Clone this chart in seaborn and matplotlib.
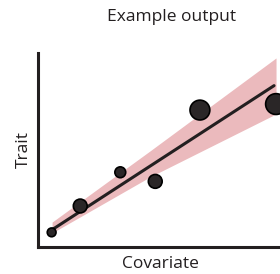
import matplotlib
matplotlib.use("Agg")
import matplotlib.pyplot as plt
import seaborn as sns
import pandas as pd

# ---- data (arbitrary units) ----
covariate = [0.62, 1.92, 3.74, 5.33, 7.36, 10.82]
trait = [0.73, 2.09, 3.83, 3.36, 7.04, 7.35]
weight = [1.0, 2.4, 1.5, 2.4, 4.9, 5.4]

fit_x = [0.62, 10.73]
fit_y = [0.85, 8.30]

band_x = [0.64, 5.09, 10.82]
band_lo = [0.70, 3.59, 6.84]
band_hi = [1.26, 4.93, 9.73]

title = "Example output"
xlabel = "Covariate"
ylabel = "Trait"

# ---- plot ----
sns.set_style("white")
plt.rcParams["font.family"] = ["Open Sans", "DejaVu Sans"]

ink = "#231f20"
fig = plt.figure(figsize=(2.80, 2.74), dpi=100)
W, H = 280, 274
left, right, top, bottom = 38, 280, 52.7, 246.5
ax = fig.add_axes([left / W, 1 - bottom / H, (right - left) / W, (bottom - top) / H])

pts = pd.DataFrame({"Covariate": covariate, "Trait": trait, "weight": weight})
fit = pd.DataFrame({"x": fit_x, "y": fit_y})

ax.fill_between(band_x, band_lo, band_hi, color="#ebbabd", linewidth=0, zorder=1)
sns.lineplot(data=fit, x="x", y="y", ax=ax, color=ink, linewidth=2.2, zorder=2)
sns.scatterplot(data=pts, x="Covariate", y="Trait", size="weight",
                sizes=(40, 225), size_norm=(1.0, 5.4), color="#2a2627",
                edgecolor="black", linewidth=1.2, legend=False, ax=ax, zorder=3)

ax.set_xlim(0, 11)
ax.set_ylim(0, 10)
ax.set_xticks([])
ax.set_yticks([])
sns.despine(ax=ax)
for s in ("left", "bottom"):
    ax.spines[s].set_linewidth(2.2)
    ax.spines[s].set_color(ink)

fs = 12.5
txt = "#231f20"
ax.set_title(title, fontsize=fs, color=txt, x=(172 - left) / (right - left),
             y=(bottom - 20.7) / (bottom - top), pad=0)
ax.set_xlabel(xlabel, fontsize=fs, color=txt, va="baseline")
ax.xaxis.set_label_coords((160 - left) / (right - left), (bottom - 267.7) / (bottom - top))
ax.set_ylabel(ylabel, fontsize=fs, color=txt, va="baseline")
ax.yaxis.set_label_coords((27.7 - left) / (right - left), (bottom - 150) / (bottom - top))

fig.savefig("out.png", dpi=100)
